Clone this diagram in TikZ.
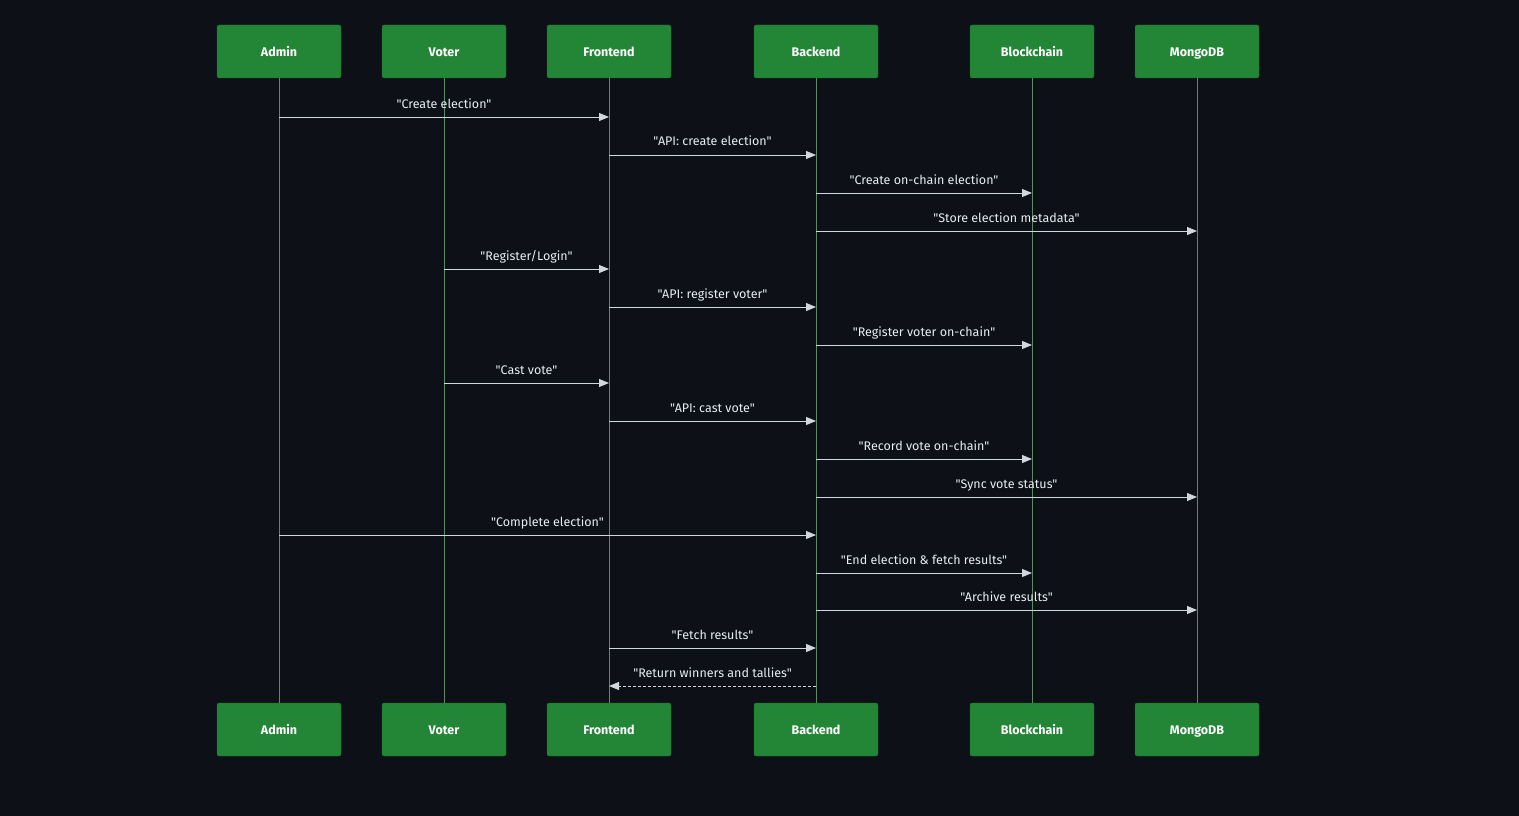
\documentclass[tikz,border=0pt]{standalone}
\usepackage{fontspec}
\setmainfont{Fira Sans}[Ligatures=TeXOff]
\usetikzlibrary{arrows.meta,calc}
\definecolor{bg}{HTML}{0D1117}
\definecolor{boxg}{HTML}{238636}
\definecolor{lifel}{HTML}{5E8A64}
\definecolor{msgc}{HTML}{D0D7DE}
\definecolor{txtc}{HTML}{E6EDF3}
\begin{document}
\begin{tikzpicture}[x=1pt,y=-1pt,
  actor/.style={draw=boxg!80!black,fill=boxg,rounded corners=2pt,minimum width=124pt,minimum height=53pt,inner sep=0pt,text=white,text height=10pt,text depth=0pt,font=\fontsize{12.5}{14}\selectfont\bfseries},
  life/.style={draw=lifel,line width=1pt},
  msg/.style={draw=msgc,line width=1pt,-{Triangle[length=10pt,width=8pt]}},
  rmsg/.style={msg,dash pattern=on 3pt off 2pt},
  lbl/.style={text=txtc,font=\fontsize{12.5}{14}\selectfont,inner sep=0pt,anchor=base}]
\fill[bg] (0,0) rectangle (1519,816);
\useasboundingbox (0,0) rectangle (1519,816);
\foreach \n/\tx/\x in {A/Admin/279,V/Voter/444,F/Frontend/609,B/Backend/816,C/Blockchain/1032,M/MongoDB/1197}{
  \node[actor] (\n-top) at (\x,51.5) {\tx};
  \node[actor] (\n-bot) at (\x,729.5) {\tx};
  \draw[life] (\n-top.south) -- (\n-bot.north);
}
\foreach \s/\d/\y/\tx in {A/F/117/{"Create election"},F/B/155/{"API: create election"},B/C/193/{"Create on-chain election"},B/M/231/{"Store election metadata"},V/F/269/{"Register/Login"},F/B/307/{"API: register voter"},B/C/345/{"Register voter on-chain"},V/F/383/{"Cast vote"},F/B/421/{"API: cast vote"},B/C/459/{"Record vote on-chain"},B/M/497/{"Sync vote status"},A/B/535/{"Complete election"},B/C/573/{"End election \& fetch results"},B/M/610/{"Archive results"},F/B/648/{"Fetch results"}}{
  \coordinate (s) at (\s-top.south |- 0,\y);
  \coordinate (d) at (\d-top.south |- 0,\y);
  \draw[msg] (s) -- (d);
  \node[lbl] (l) at ($(s)!0.5!(d)+(0,-9)$) {\tx};
}
\coordinate (rs) at (B-top.south |- 0,686);
\coordinate (rd) at (F-top.south |- 0,686);
\draw[rmsg] (rs) -- (rd);
\node[lbl] (rl) at ($(rs)!0.5!(rd)+(0,-9)$) {"Return winners and tallies"};
\end{tikzpicture}
\end{document}
